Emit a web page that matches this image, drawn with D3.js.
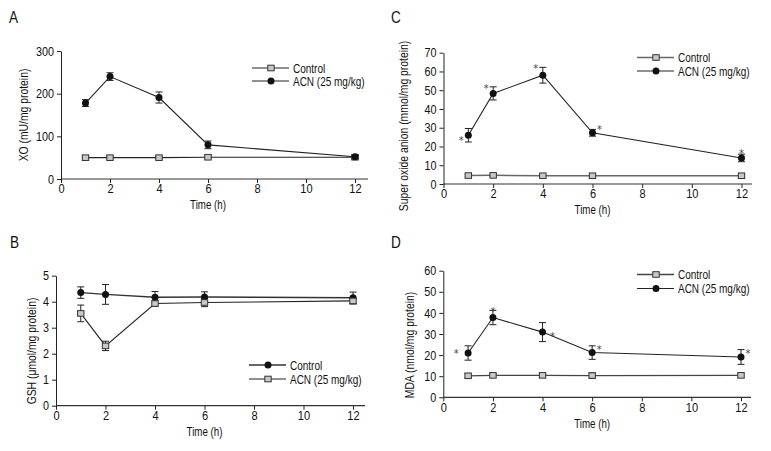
<!DOCTYPE html>
<html><head><meta charset="utf-8">
<script src="https://cdn.jsdelivr.net/npm/d3@7"></script>
<style>
body{margin:0;background:#fff}
svg text{font-family:"Liberation Sans",Arial,sans-serif;fill:#111}
</style></head><body>
<svg id="chart" width="771" height="451"></svg>
<script>
// ---------- data ----------
const times = [1, 2, 4, 6, 12];
const xTicks = [0, 2, 4, 6, 8, 10, 12];
const seriesNames = ["Control", "ACN (25 mg/kg)"];
const xTitle = "Time (h)";

// A: XO
const xoTicks = [0, 100, 200, 300];
const xoControl = [50, 50, 50, 51, 51];
const xoControlErr = [3, 3, 3, 3, 3];
const xoACN = [178, 240, 191, 80, 52];
const xoACNErr = [8, 9, 13, 9, 5];

// B: GSH
const gshTicks = [0, 1, 2, 3, 4, 5];
const gshControl = [4.35, 4.28, 4.17, 4.18, 4.15];
const gshControlErr = [0.22, 0.38, 0.22, 0.2, 0.22];
const gshACN = [3.55, 2.3, 3.93, 3.97, 4.03];
const gshACNErr = [0.32, 0.18, 0.1, 0.16, 0.12];

// C: Super oxide anion
const supTicks = [0, 10, 20, 30, 40, 50, 60, 70];
const supControl = [4.5, 4.6, 4.4, 4.4, 4.4];
const supControlErr = [0.6, 0.6, 0.5, 0.5, 0.5];
const supACN = [26, 48.3, 58, 27.3, 13.9];
const supACNErr = [3.6, 3.5, 4.2, 1.8, 2.0];
const supSig = ["left", "upleft", "upleft", "upright", "up"];

// D: MDA
const mdaTicks = [0, 10, 20, 30, 40, 50, 60];
const mdaControl = [10.2, 10.4, 10.4, 10.3, 10.4];
const mdaControlErr = [1.0, 1.0, 0.8, 1.3, 1.0];
const mdaACN = [21, 37.8, 30.9, 21.2, 19.1];
const mdaACNErr = [3.4, 3.4, 4.5, 3.2, 3.5];
const mdaSig = ["farleft", "upcap", "right", "upright", "upright"];

// ---------- drawing ----------
const svg = d3.select("#chart");
// [dx, dy, anchorAtErrorTop]
const sigOffsets = {
  left: [-7, 1, false], upleft: [-7, -2.5, true], upright: [7, -7, false], up: [0, -5, true],
  farleft: [-12, -3.5, false], upcap: [0, -3, true], right: [10, 0, false]
};

function addText(g, x, y, str, size, sx, anchor, rotate) {
  return g.append("text")
    .attr("transform", `translate(${x},${y})${rotate ? " rotate(-90)" : ""} scale(${sx},1)`)
    .attr("text-anchor", anchor || "start").style("font-size", size + "px").text(str);
}

function panel(cfg) {
  const g = svg.append("g");
  const x = d3.scaleLinear().domain([0, 12]).range([cfg.x0, cfg.x1]);
  const y = d3.scaleLinear().domain([0, cfg.ticks[cfg.ticks.length - 1]]).range([cfg.y0, cfg.y1]);

  // x axis
  const xa = g.append("g").attr("transform", `translate(0,${cfg.y0})`)
    .call(d3.axisBottom(x).tickValues(xTicks).tickFormat(d3.format("d")).tickSize(4).tickPadding(1).tickSizeOuter(0));
  xa.select(".domain").remove();
  xa.selectAll("text").style("font-size", "13px").attr("transform", "scale(0.85,1)");
  g.append("line").attr("x1", cfg.x0).attr("x2", cfg.xEnd).attr("y1", cfg.y0).attr("y2", cfg.y0)
    .attr("stroke", "#333").attr("stroke-width", 1.2);

  // y axis
  const ya = g.append("g").attr("transform", `translate(${cfg.x0},0)`)
    .call(d3.axisLeft(y).tickValues(cfg.ticks).tickFormat(d3.format("d")).tickSize(4).tickPadding(3).tickSizeOuter(0));
  ya.select(".domain").attr("stroke", "#222");
  ya.selectAll("text").style("font-size", "13px")
    .attr("x", -7 / 0.83).attr("transform", "scale(0.83,1)");
  g.selectAll(".tick line").attr("stroke", "#222");

  // titles
  addText(g, (cfg.x0 + cfg.x1) / 2, cfg.y0 + cfg.xTitleDy, xTitle, 12.5, 0.78, "middle");
  addText(g, cfg.yTitleX, cfg.yTitleY, cfg.yTitle, 12.5, 0.83, "middle", true);
  addText(g, cfg.letterX, cfg.letterY, cfg.letter, 17, 0.8, "start");

  const line = d3.line().x((d, i) => x(times[i])).y(d => y(d));

  cfg.series.forEach(s => {
    s.values.forEach((v, i) => {
      const cx = x(times[i]);
      const top = y(v + s.err[i]), bot = y(v - s.err[i]);
      g.append("line").attr("x1", cx).attr("x2", cx).attr("y1", top).attr("y2", bot)
        .attr("stroke", "#222").attr("stroke-width", 1);
      [top, bot].forEach(yy => g.append("line").attr("x1", cx - 3.5).attr("x2", cx + 3.5)
        .attr("y1", yy).attr("y2", yy).attr("stroke", "#222").attr("stroke-width", 1));
    });
    g.append("path").datum(s.values).attr("d", line).attr("fill", "none")
      .attr("stroke", s.lineColor).attr("stroke-width", s.lineWidth || 1.1);
  });

  cfg.series.forEach(s => {
    s.values.forEach((v, i) => drawMarker(g, s.marker, x(times[i]), y(v)));
    if (s.sig) {
      s.values.forEach((v, i) => {
        const o = sigOffsets[s.sig[i]];
        const base = o[2] ? y(v + s.err[i]) : y(v);
        addText(g, x(times[i]) + o[0], base + o[1] + 7.5, "*", 13, 0.9, "middle")
          .style("fill", "#444").style("font-family", "'DejaVu Sans', sans-serif").style("font-size", "11px");
      });
    }
  });

  // legend
  cfg.series.forEach((s, k) => {
    const ly = cfg.legY + k * cfg.legGap;
    g.append("line").attr("x1", cfg.legX).attr("x2", cfg.legX + 37).attr("y1", ly).attr("y2", ly)
      .attr("stroke", s.lineColor).attr("stroke-width", s.lineWidth || 1.1);
    drawMarker(g, s.marker, cfg.legX + 19, ly);
    addText(g, cfg.legX + 41, ly + 4.5, s.name, 12.5, 0.8, "start");
  });
}

function drawMarker(g, type, cx, cy) {
  if (type === "circle") {
    g.append("circle").attr("cx", cx).attr("cy", cy).attr("r", 3.5).attr("fill", "#111");
  } else {
    g.append("rect").attr("x", cx - 3.2).attr("y", cy - 2.8).attr("width", 6.4).attr("height", 5.6)
      .attr("fill", "#c8c8c8").attr("stroke", "#333").attr("stroke-width", 1);
  }
}

panel({
  letter: "A", letterX: 9, letterY: 23,
  x0: 61, x1: 355, xEnd: 368, y0: 179, y1: 51, ticks: xoTicks, xTitleDy: 30,
  yTitle: "XO (mU/mg protein)", yTitleX: 28, yTitleY: 115,
  legX: 252, legY: 68, legGap: 13,
  series: [
    { name: seriesNames[0], values: xoControl, err: xoControlErr, marker: "square", lineColor: "#222" },
    { name: seriesNames[1], values: xoACN, err: xoACNErr, marker: "circle", lineColor: "#222" }
  ]
});

panel({
  letter: "B", letterX: 10, letterY: 248,
  x0: 56, x1: 353, xEnd: 365, y0: 405.7, y1: 275.7, ticks: gshTicks, xTitleDy: 30,
  yTitle: "GSH (μmol/mg protein)", yTitleX: 36, yTitleY: 351,
  legX: 249, legY: 365, legGap: 14,
  series: [
    { name: seriesNames[0], values: gshControl, err: gshControlErr, marker: "circle", lineColor: "#333", lineWidth: 1.4 },
    { name: seriesNames[1], values: gshACN, err: gshACNErr, marker: "square", lineColor: "#222" }
  ]
});

panel({
  letter: "C", letterX: 391, letterY: 23,
  x0: 443.5, x1: 741.5, xEnd: 752, y0: 184, y1: 52.7, ticks: supTicks, xTitleDy: 30,
  yTitle: "Super oxide anion (mmol/mg protein)", yTitleX: 408, yTitleY: 126,
  legX: 637, legY: 57.5, legGap: 13.5,
  series: [
    { name: seriesNames[0], values: supControl, err: supControlErr, marker: "square", lineColor: "#666", lineWidth: 1.5 },
    { name: seriesNames[1], values: supACN, err: supACNErr, marker: "circle", lineColor: "#222", sig: supSig }
  ]
});

panel({
  letter: "D", letterX: 391, letterY: 248,
  x0: 443.3, x1: 741, xEnd: 751, y0: 397.3, y1: 270.7, ticks: mdaTicks, xTitleDy: 31,
  yTitle: "MDA (nmol/mg protein)", yTitleX: 414, yTitleY: 345,
  legX: 637, legY: 274.5, legGap: 14,
  series: [
    { name: seriesNames[0], values: mdaControl, err: mdaControlErr, marker: "square", lineColor: "#444", lineWidth: 1.3 },
    { name: seriesNames[1], values: mdaACN, err: mdaACNErr, marker: "circle", lineColor: "#222", sig: mdaSig }
  ]
});
</script>
</body></html>
